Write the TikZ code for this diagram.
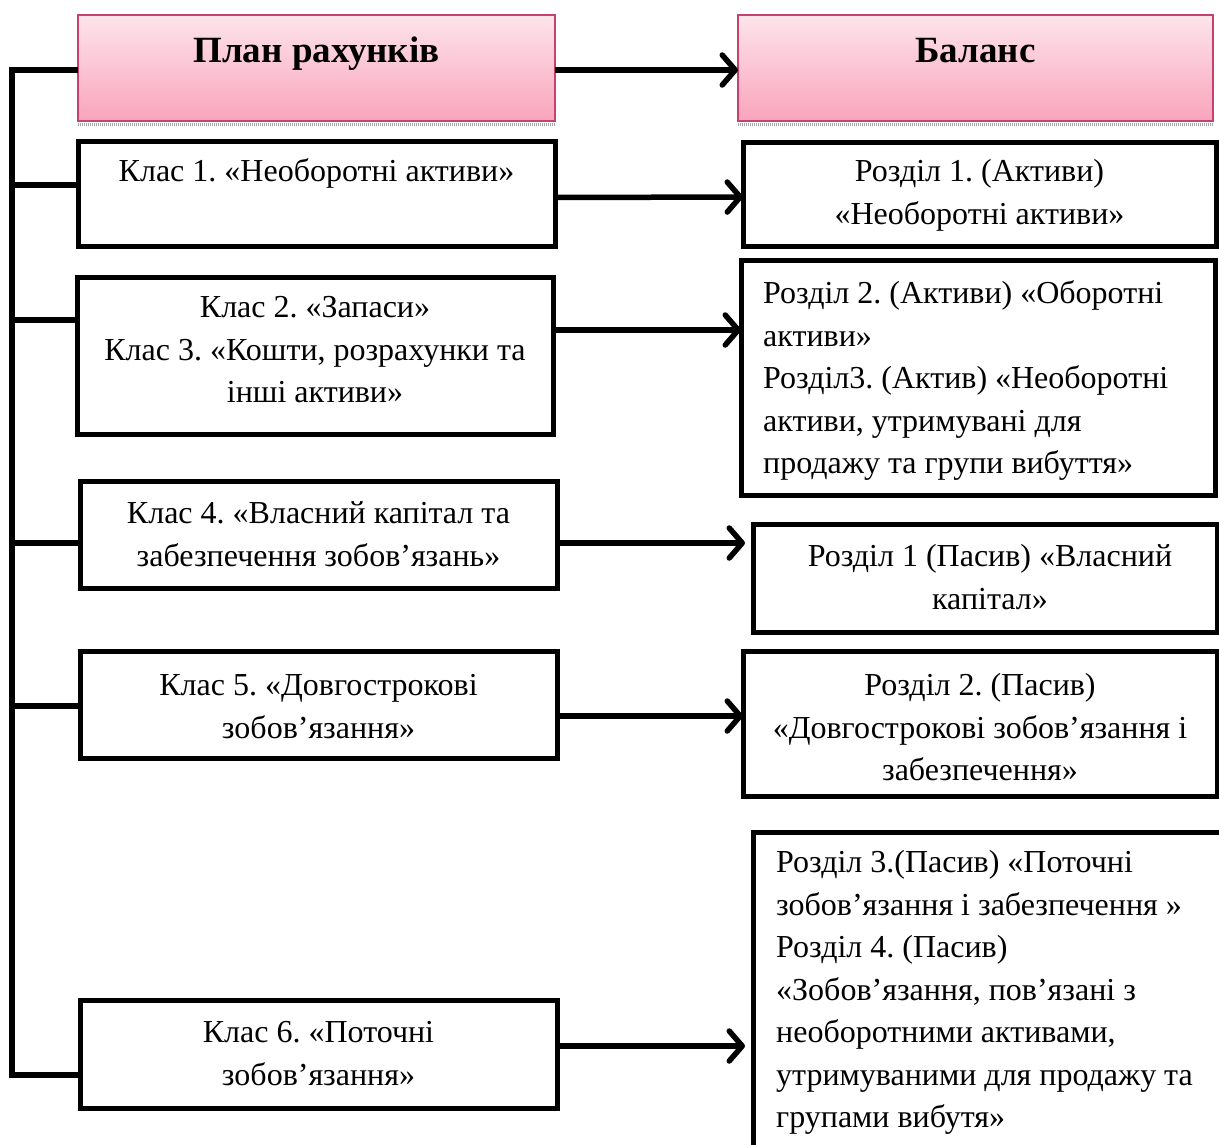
\documentclass[tikz,border=0pt]{standalone}
\usepackage{fontspec}
\setmainfont{Liberation Serif}
\usetikzlibrary{arrows.meta}
\definecolor{hdrtop}{RGB}{253,228,235}
\definecolor{hdrbot}{RGB}{249,164,188}
\definecolor{hdrline}{RGB}{196,66,108}
\frenchspacing
\begin{document}
\frenchspacing
\begin{tikzpicture}[x=1pt,y=-1pt,
  box/.style={draw=black, line width=5pt, rectangle, anchor=north west, inner sep=0pt, outer sep=0pt, fill=white},
  hdr/.style={draw=hdrline, line width=1.5pt, rectangle, anchor=north west, inner sep=0pt, outer sep=0pt, top color=hdrtop, bottom color=hdrbot},
  txt/.style={anchor=north, inner sep=0pt, align=center, font=\fontsize{32}{42.5}\selectfont\frenchspacing},
  ltxt/.style={anchor=north west, inner sep=0pt, align=left, font=\fontsize{32}{42.5}\selectfont\frenchspacing},
  htxt/.style={anchor=north, inner sep=0pt, align=center, font=\fontsize{37}{44}\selectfont\bfseries},
  conn/.style={draw=black, line width=5.5pt},
  arr/.style={draw=black, line width=5.5pt, -{Straight Barb[length=13pt,width=30pt,line cap=round,line join=round]}}
]
\useasboundingbox (0,0) rectangle (1219,1144);
\clip (0,0) rectangle (1219,1144);

% headers
\node[hdr, minimum width=477pt, minimum height=106pt] (h1) at (78,15) {};
\node[hdr, minimum width=475pt, minimum height=106pt] (h2) at (738,15) {};
\draw[gray!70, line width=3pt, dash pattern=on 1pt off 1pt] (h1.south west) ++(0,3.5) -- ++(477,0);
\draw[gray!70, line width=3pt, dash pattern=on 1pt off 1pt] (h2.south west) ++(0,3.5) -- ++(475,0);
\node[htxt] (h1t) at ([yshift=-16pt]h1.north) {\strut План рахунків};
\node[htxt] (h2t) at ([yshift=-16pt]h2.north) {\strut Баланс};

% left boxes
\node[box, minimum width=477pt, minimum height=105pt] (k1) at (78,141) {};
\node[box, minimum width=476pt, minimum height=157pt] (k2) at (77,277) {};
\node[box, minimum width=477pt, minimum height=107pt] (k4) at (80,481) {};
\node[box, minimum width=477pt, minimum height=107pt] (k5) at (80,651) {};
\node[box, minimum width=477pt, minimum height=108pt] (k6) at (80,1000) {};

% right boxes
\node[box, minimum width=473pt, minimum height=104pt] (r1) at (743,142) {};
\node[box, minimum width=474pt, minimum height=235pt] (r2) at (741,260) {};
\node[box, minimum width=464pt, minimum height=108pt] (r1p) at (753,524) {};
\node[box, minimum width=474pt, minimum height=145pt] (r2p) at (743,651) {};
\node[box, minimum width=480pt, minimum height=330pt] (r3) at (753,832) {};

% texts
\node[txt] (k1t) at ([yshift=-11pt]k1.north) {\strut Клас 1. «Необоротні активи»};
\node[txt] (k2t) at ([yshift=-11pt]k2.north) {\strut Клас 2. «Запаси»\\Клас 3. «Кошти, розрахунки та\\інші активи»};
\node[txt] (k4t) at ([yshift=-13pt]k4.north) {\strut Клас 4. «Власний капітал та\\забезпечення зобов’язань»};
\node[txt] (k5t) at ([yshift=-15pt]k5.north) {\strut Клас 5. «Довгострокові\\зобов’язання»};
\node[txt] (k6t) at ([yshift=-13pt]k6.north) {\strut Клас 6. «Поточні\\зобов’язання»};

\node[txt] (r1t) at ([yshift=-10pt]r1.north) {\strut Розділ 1. (Активи)\\«Необоротні активи»};
\node[ltxt] (r2t) at ([xshift=22pt,yshift=-14pt]r2.north west) {\strut Розділ 2. (Активи) «Оборотні\\активи»\\Розділ3. (Актив) «Необоротні\\активи, утримувані для\\продажу та групи вибуття»};
\node[txt] (r1pt) at ([xshift=5pt,yshift=-13pt]r1p.north) {\strut Розділ 1 (Пасив) «Власний\\капітал»};
\node[txt] (r2pt) at ([yshift=-15pt]r2p.north) {\strut Розділ 2. (Пасив)\\«Довгострокові зобов’язання і\\забезпечення»};
\node[ltxt] (r3t) at ([xshift=23pt,yshift=-11pt]r3.north west) {\strut Розділ 3.(Пасив) «Поточні\\зобов’язання і забезпечення »\\Розділ 4. (Пасив)\\«Зобов’язання, пов’язані з\\необоротними активами,\\утримуваними для продажу та\\групами вибутя»};

% bus on the left
\coordinate (bt) at (12,70);
\coordinate (bb) at (12,1075);
\coordinate (b1) at (12,185);
\coordinate (b2) at (12,320);
\coordinate (b4) at (12,543);
\coordinate (b5) at (12,706);
\draw[conn] (h1.west |- bt) -- (bt) -- (bb) -- (k6.west |- bb);
\draw[conn] (b1) -- (k1.west |- b1);
\draw[conn] (b2) -- (k2.west |- b2);
\draw[conn] (b4) -- (k4.west |- b4);
\draw[conn] (b5) -- (k5.west |- b5);

% arrows
\draw[arr] (h1.east |- bt) -- (h2.west |- bt);
\draw[arr] ([yshift=-4pt]k1.east) -- ([yshift=-3pt]r1.west);
\draw[arr] (k2.east |- 0,330) -- (r2.west |- 0,330);
\draw[arr] (k4.east |- 0,543) -- ([xshift=-8pt]r1p.west |- 0,543);
\draw[arr] (k5.east |- 0,716) -- (r2p.west |- 0,716);
\draw[arr] (k6.east |- 0,1046) -- ([xshift=-8pt]r3.west |- 0,1046);
\end{tikzpicture}
\end{document}
